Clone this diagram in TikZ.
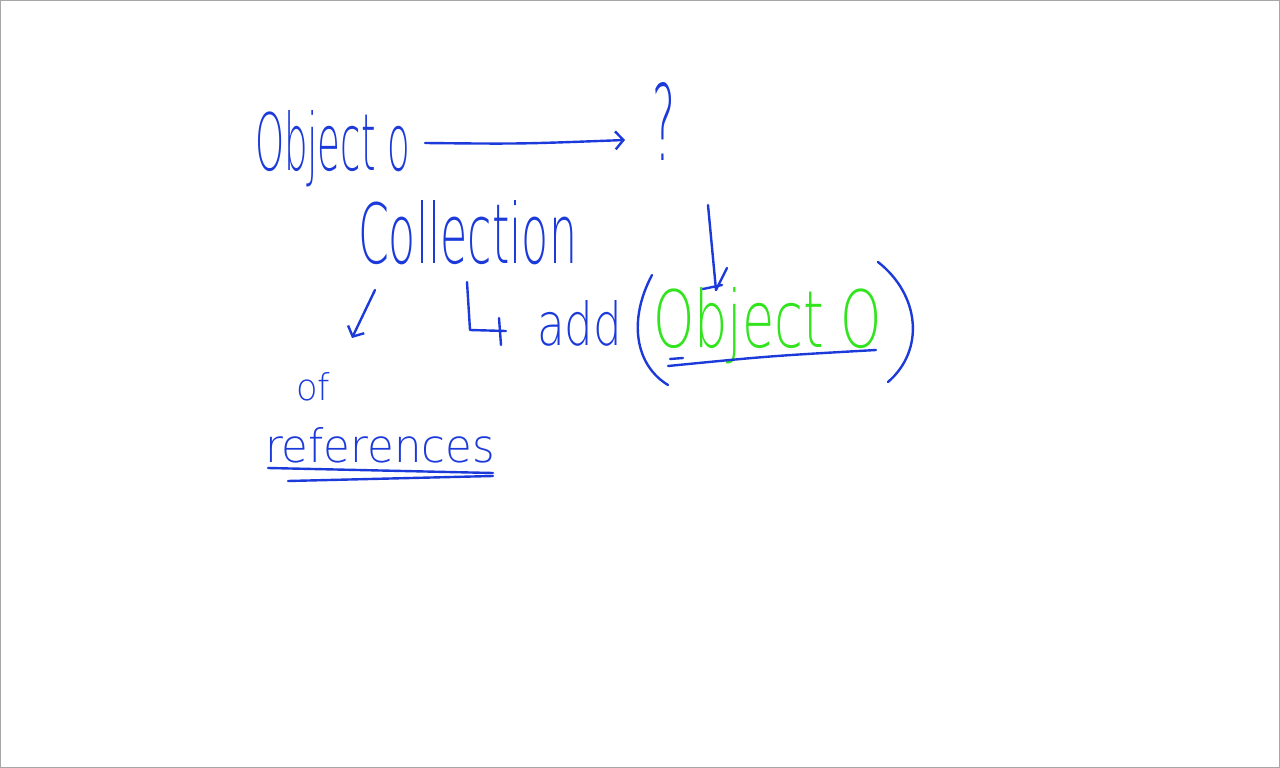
\documentclass[tikz,border=0pt]{standalone}
\usepackage{fontspec}
\setmainfont{DejaVu Sans ExtraLight}
\usetikzlibrary{arrows.meta}
\definecolor{ink}{RGB}{28,58,218}
\definecolor{lime}{RGB}{50,228,30}
\begin{document}
\begin{tikzpicture}[x=1pt,y=-1pt,
  txt/.style={inner sep=0pt,outer sep=0pt,anchor=base west,text=ink},
  pen/.style={draw=ink,line width=2.4pt,line cap=round,line join=round},
  barb/.style={-{Straight Barb[length=8pt,width=18pt,line width=2.4pt]}}]
\useasboundingbox (0,0) rectangle (1280,768);
\draw[gray!70,line width=1pt] (0.5,0.5) rectangle (1279.5,767.5);
\node[txt] (obj) at (255,170) {\resizebox{155pt}{60pt}{Object o}};
\node[txt] (q) at (652,160) {\resizebox{23pt}{78pt}{?}};
\node[txt] (coll) at (358,263) {\resizebox{219pt}{63pt}{Collection}};
\node[txt] (of) at (296,400) {\resizebox{34pt}{28pt}{of}};
\node[txt] (refs) at (265,462) {\resizebox{230pt}{35pt}{references}};
\node[txt] (add) at (537,345) {\resizebox{85pt}{45pt}{add}};
\node[txt,text=lime] (arg) at (653,347) {\resizebox{229pt}{60pt}{Object O}};
% arrow Object o -> ?
\coordinate (a1s) at (425,143);
\coordinate (a1e) at (625,140);
\draw[pen,barb] (a1s) .. controls (520,144) .. (a1e);
% arrow collection -> of references
\coordinate (a2s) at (375,290);
\coordinate (a2e) at (352,338);
\draw[pen,barb] (a2s) -- (a2e);
% hook arrow to add
\coordinate (h1) at (467,282);
\coordinate (h2) at (470,330);
\coordinate (h3) at (506,331);
\draw[pen] (h1) -- (h2) -- (h3);
\draw[pen] (499,318) -- (501,345);
% vertical arrow from ? to argument
\coordinate (v1) at (708,205);
\coordinate (v2) at (716,290);
\draw[pen] (v1) -- (v2);
\draw[pen] (703,289) -- (722,285);
\draw[pen] (727,268) -- (v2);
% parentheses
\draw[pen] (652,275) .. controls (628,320) and (635,365) .. (668,385);
\draw[pen] (878,262) .. controls (920,295) and (925,350) .. (888,382);
% underline of argument
\draw[pen] (668,366) .. controls (770,356) .. (876,350);
\draw[pen] (670,359) -- (683,358);
% underlines of references
\draw[pen] (268,468) -- (493,473);
\draw[pen] (288,481) -- (493,476);
\end{tikzpicture}
\end{document}
